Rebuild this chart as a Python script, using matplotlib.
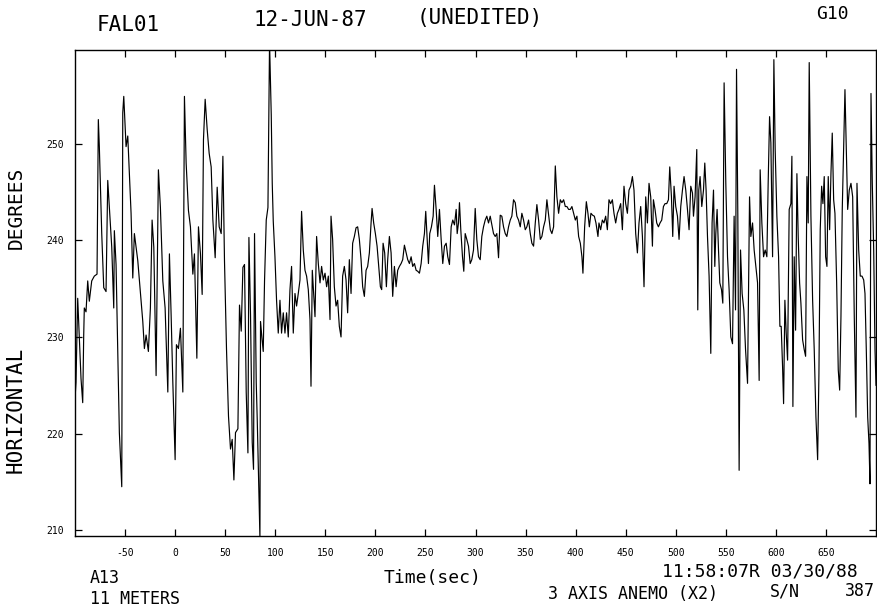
import matplotlib
matplotlib.use("Agg")
import matplotlib.pyplot as plt

# ---- data ----
time_s = [
    -100, -99, -97.3, -95.7, -94, -92.3, -91.3, -90.7, -89, -87.3,
    -85.7, -83.3, -80.7, -78, -76.7, -75.7, -73.3, -71.3, -69, -67.3,
    -65.7, -63.3, -61.3, -60.7, -59, -57.3, -55.7, -53.3, -52.3, -51.3,
    -49, -47.3, -45.7, -44, -42.3, -40.7, -39, -37.3, -34, -32.3,
    -30.7, -29, -26.7, -24.7, -23, -21.3, -19, -16.7, -14.7, -12.3,
    -10, -7.3, -5.7, -4, -2.3, 0, 1.3, 3.3, 5.3, 7.7,
    9.3, 11, 13.3, 15.3, 17.7, 19.3, 21.7, 23.3, 25.3, 27,
    28.3, 30, 32, 34, 36, 37.7, 40, 42, 44, 46,
    47.7, 49.3, 51.3, 53.3, 55.3, 57, 58.7, 60.3, 62.7, 64.3,
    66, 67.7, 69.3, 71, 72.7, 73.7, 75.3, 77, 78.3, 79.3,
    81, 82, 83.3, 84.7, 85.3, 86.7, 88, 89.3, 91, 92.7,
    94.3,
    96, 97, 98, 99.7, 101.3, 103, 104.7, 106.3, 108, 109.7,
    111.3, 113, 114.7, 116.3, 118, 119.7, 121.3, 123, 124.7, 126.3,
    128, 129.7, 131.3, 133, 134.7, 135.7, 137, 138.7, 139.7, 141.3,
    143, 144.7, 146.3, 148, 149.7, 151.3, 153, 154.7, 155.7, 157.3,
    159, 160.7, 162.3, 164, 165.7, 167.3, 169, 170.7, 172.3, 174,
    175.7, 177.3, 179, 180.7, 182.3, 184, 185.7, 187.3, 189, 190.7,
    192.3, 194, 195.7, 196.7, 198.3, 200, 201.7, 203.3, 205, 206.3,
    207.7, 209.3, 211, 212.3, 214, 215.7, 217.3, 219, 220.7, 222.3,
    224, 225.7, 227.3, 229, 230.7, 232.3, 234, 235.7, 237.3, 239,
    240.7, 242.3, 244, 245.7, 247.3, 249, 250.3, 251.7, 253, 254.3,
    256, 257.7, 259, 260.7, 262.3, 264, 265.7, 267.3, 269, 270.7,
    272.3, 274, 275.7, 277.3, 279, 280.7, 281.7, 283, 284, 285.3,
    287, 288.3, 289.7, 291.3, 293, 294.7, 296.3, 298, 299.7, 301.3,
    303, 304.7, 306.3, 308, 309.7, 311.3, 313, 314.7, 316.3, 318,
    319.7, 321.3, 323, 324.7, 326.3, 328, 329.7, 331.3, 333, 334.7,
    336.3, 338, 339.7, 341.3, 343, 344.7, 346.3, 348, 349.7, 351.3,
    353, 354.7, 356.3, 358, 359.7, 361.3, 363, 364.7, 366.3, 368,
    369.7, 371.3, 373, 374.7, 376.3, 378, 379.7, 381.3, 383, 384.7,
    386.3, 388, 389.7, 391.3, 393, 394.7, 396.3, 398, 399.7, 401.3,
    403, 404.7, 406.3, 407.3, 409, 410.7, 412.3, 413.7, 415.3, 417,
    418.7, 420.3, 422.3,
    423.3, 425, 426.7, 428.3, 430, 431.7, 433.3, 435, 436.7, 438.3,
    440, 441.7, 443.3, 445, 446.7, 448.3, 450, 451.7, 453.3, 455,
    456.7, 458.3, 460, 461.7, 463.3, 465, 466.7, 468.3, 470, 471.7,
    473.3, 475, 476.7, 477.7, 479.3, 481, 482.7, 484.3, 486, 487.7,
    489.3, 491, 492.7, 494, 495.7, 497, 498.3, 500, 501.7, 503.3,
    505, 506.7, 508.3, 510, 511.7, 513.3, 515, 516.7, 517.7, 519.3,
    521, 522, 523, 524.3, 526, 527.7, 529, 530.3, 531.7, 533.3,
    535, 536.3, 537.7, 539, 540, 541.3, 542.7, 544, 545.7, 547,
    548.3, 550, 551.7, 553.3, 555, 556.7, 558.3, 559.7, 560.7, 562,
    563.3, 564.7, 566.3, 568, 569.7, 571.7, 573.7, 575, 576.7, 578.3,
    580, 581.7, 583.3, 584.3, 586, 587.7, 589.3, 591, 592.3, 593.7,
    595, 596.7, 598, 599.3, 601, 602.7, 604, 605.3, 606.7, 607.7,
    609, 610.3, 611.7, 613.3, 615, 616, 617, 618.3, 619.7, 621,
    622.3, 623.7, 625, 626.7, 628.3, 629.7, 631, 632.3, 633.3, 635,
    636.7, 638.3, 640, 641.7, 643, 644.3, 645.7, 647, 648.3, 649.7,
    651, 652.3, 653.7, 655, 656.3, 657.7, 659, 660.7, 662.3, 663.7,
    665, 666.3, 667.7, 669, 670.3, 671.7, 673.3, 675, 676.7, 678.3,
    680, 681, 682.7, 684.3, 686, 687.7, 689, 690.3, 691.7, 693,
    694, 695, 696.3, 697.7, 699, 700,
]

direction_deg = [
    223.6, 225.3, 234.0, 229.9, 225.7, 223.2, 230.2, 233.0, 232.6, 235.8,
    233.7, 235.8, 236.3, 236.5, 252.5, 249.7, 240.7, 235.1, 234.7, 246.2,
    243.4, 239.3, 233.0, 241.0, 237.5, 228.8, 220.1, 214.5, 253.2, 254.9,
    249.7, 250.8, 246.9, 242.8, 236.1, 240.7, 239.3, 237.9, 233.7, 231.6,
    228.8, 230.2, 228.5, 233.0, 242.1, 239.3, 226.0, 247.3, 243.4, 235.8,
    233.0, 224.3, 238.6, 232.3, 225.3, 217.3, 229.2, 228.8, 230.9, 224.3,
    254.9, 248.0, 243.1, 241.4, 236.5, 238.6, 227.8, 241.4, 238.6, 234.4,
    250.4, 254.6, 251.5, 249.0, 247.6, 242.1, 238.2, 245.5, 241.4, 240.7,
    248.7, 237.9, 228.8, 221.8, 218.4, 219.4, 215.2, 220.1, 220.5, 233.3,
    230.6, 237.2, 237.5, 224.3, 218.0, 240.3, 232.3, 219.1, 216.3, 240.7,
    225.3, 221.5, 215.6, 209.2, 231.6, 229.9, 228.5, 235.8, 242.1, 243.4,
    260.5,
    253.0, 245.9, 242.0, 238.3, 233.8, 230.4, 233.8, 230.4, 232.5, 230.4,
    232.5, 230.0, 234.9, 237.3, 230.4, 234.5, 233.2, 234.5, 235.9, 243.0,
    239.0, 236.9, 236.3, 234.9, 231.8, 224.9, 236.9, 233.8, 232.1, 240.4,
    237.6, 235.6, 237.3, 235.9, 236.6, 235.2, 236.3, 231.8, 242.5, 240.1,
    235.2, 233.2, 233.8, 231.1, 230.0, 236.3, 237.3, 235.9, 232.5, 238.0,
    234.5, 239.7, 240.4, 241.3, 241.4, 240.1, 238.0, 235.2, 234.2, 236.9,
    237.3, 238.7, 241.8, 243.3, 241.8, 240.7, 239.4, 237.3, 235.2, 234.9,
    239.7, 238.7, 235.2, 238.0, 240.4, 238.7, 234.2, 237.3, 235.2, 236.9,
    237.3, 237.6, 238.0, 239.5, 238.7, 238.0, 237.6, 238.3, 237.3, 237.6,
    236.9, 236.8, 236.6, 237.6, 239.4, 240.7, 243.0, 240.1, 237.6, 240.7,
    241.4, 242.5, 245.7, 243.2, 240.4, 243.2, 240.1, 237.6, 239.4, 239.7,
    238.3, 237.5, 241.4, 242.1, 241.6, 243.2, 240.7, 241.8, 243.9, 241.1,
    238.3, 236.8, 240.7, 240.1, 239.4, 237.6, 238.0, 239.0, 243.3, 240.1,
    238.3, 238.0, 240.4, 241.4, 242.1, 242.5, 241.8, 242.5, 241.6, 240.7,
    240.4, 240.7, 238.2, 242.6, 242.5, 241.4, 240.7, 240.4, 241.4, 242.1,
    242.5, 244.2, 243.9, 242.5, 242.1, 241.4, 242.8, 242.1, 241.1, 241.4,
    242.1, 240.7, 239.7, 239.4, 241.8, 243.7, 242.1, 240.1, 240.4, 241.4,
    242.1, 244.2, 242.6, 241.1, 240.7, 241.4, 247.7, 244.5, 242.8, 244.2,
    243.9, 244.2, 243.5, 243.5, 243.2, 243.2, 243.5, 242.8, 242.1, 242.5,
    240.4, 239.7, 238.3, 236.6, 241.4, 244.0, 242.8, 241.4, 242.8, 242.6,
    242.5, 241.8, 240.4,
    241.8, 241.1, 242.1, 241.8, 242.5, 241.1, 244.2, 243.8, 244.2, 242.8,
    241.8, 242.8, 243.2, 243.8, 241.1, 245.6, 243.8, 242.8, 245.2, 245.6,
    246.6, 245.2, 240.7, 238.7, 241.8, 243.5, 240.4, 235.2, 244.5, 241.8,
    245.9, 244.5, 239.4, 244.2, 243.2, 241.8, 241.4, 241.8, 242.1, 243.5,
    243.8, 243.8, 244.2, 247.6, 244.5, 240.4, 245.6, 243.5, 242.5, 240.1,
    243.5, 245.2, 246.6, 245.2, 243.2, 241.1, 245.6, 244.9, 242.5, 244.5,
    249.4, 232.8, 245.2, 246.6, 243.5, 245.2, 248.0, 245.2, 240.4, 236.3,
    228.3, 241.8, 245.2, 237.3, 240.7, 243.2, 239.0, 235.6, 234.9, 233.5,
    256.3, 245.9, 238.3, 234.9, 230.0, 229.3, 242.5, 232.8, 257.7, 242.5,
    216.2, 239.0, 234.5, 232.8, 228.7, 225.2, 244.5, 240.4, 241.8, 239.0,
    237.3, 235.6, 225.5, 247.3, 241.8, 238.3, 239.0, 238.3, 245.9, 252.8,
    250.1, 238.3, 258.7, 249.4, 242.5, 238.3, 231.1, 231.1, 226.9, 223.1,
    233.8, 230.4, 227.6, 243.2, 243.8, 248.7, 222.8, 238.3, 230.7, 246.9,
    240.4, 235.6, 233.5, 229.7, 228.7, 228.0, 246.6, 241.8, 258.4, 242.5,
    233.8, 228.7, 221.7, 217.3, 226.2, 241.1, 245.6, 243.8, 246.6, 238.3,
    237.3, 246.6, 241.1, 246.9, 251.1, 244.2, 242.8, 235.6, 226.6, 224.5,
    232.1, 243.2, 249.4, 255.6, 249.4, 243.2, 245.2, 245.9, 244.5, 232.1,
    221.7, 245.9, 239.0, 236.3, 236.3, 235.9, 234.5, 228.7, 221.7, 219.0,
    214.8, 255.2, 245.9, 239.0, 228.7, 225.0,
]

x_ticks = [-50, 0, 50, 100, 150, 200, 250, 300, 350, 400, 450, 500, 550, 600, 650]
y_ticks = [210, 220, 230, 240, 250]

W, H = 878, 615
FONT = ["DejaVu Sans Mono", "DejaVu Sans"]

fig = plt.figure(figsize=(W / 100, H / 100), dpi=100)
ax = fig.add_axes([75 / W, 1 - 536 / H, (876 - 75) / W, (536 - 50) / H])

ax.plot(time_s, direction_deg, color="black", lw=0.85)
ax.set_xlim(-100, 700)
ax.set_ylim(209.4, 259.7)

ax.set_xticks(x_ticks)
ax.set_xticklabels([str(v) for v in x_ticks], family=FONT, fontsize=7)
ax.set_yticks(y_ticks)
ax.set_yticklabels([str(v) for v in y_ticks], family=FONT, fontsize=7)
ax.tick_params(axis="both", direction="in", length=5, width=0.9,
               top=True, right=True, color="black")
ax.tick_params(axis="x", pad=9)
ax.tick_params(axis="y", pad=8)
for s in ax.spines.values():
    s.set_linewidth(1.0)
    s.set_color("black")


def ftext(x, y, s, size, **kw):
    fig.text(x / W, 1 - y / H, s, fontsize=size, family=FONT,
             ha=kw.pop("ha", "center"), va=kw.pop("va", "center"), **kw)


# header
ftext(128, 25, "FAL01", 15)
ftext(310, 20, "12-JUN-87", 15)
ftext(480, 18, "(UNEDITED)", 15)
ftext(832, 14, "G10", 13)

# y labels
ftext(16, 410, "HORIZONTAL", 15, rotation=90)
ftext(16, 208, "DEGREES", 14, rotation=90)

# bottom notes
ftext(90, 578, "A13", 12, ha="left")
ftext(90, 599, "11 METERS", 12, ha="left")
ftext(433, 578, "Time(sec)", 13)
ftext(858, 572, "11:58:07R 03/30/88", 13, ha="right")
ftext(548, 594, "3 AXIS ANEMO (X2)", 12, ha="left")
ftext(785, 592, "S/N", 12)
ftext(875, 591, "387", 12, ha="right")

fig.savefig("out.png", dpi=100)
